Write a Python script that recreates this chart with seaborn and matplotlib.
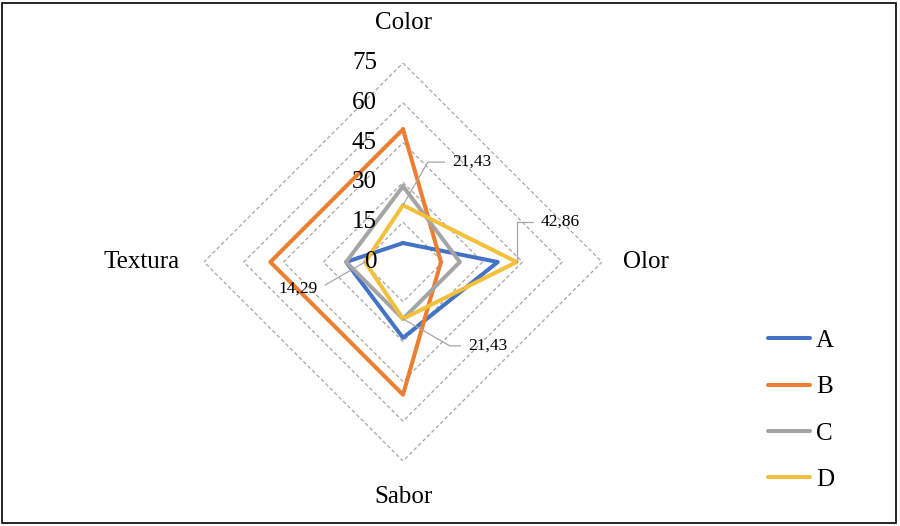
import numpy as np
import pandas as pd
import matplotlib
matplotlib.use('Agg')
import matplotlib.pyplot as plt
import seaborn as sns
from matplotlib.lines import Line2D
from matplotlib.patches import Rectangle
from matplotlib import transforms

# datos del grafico
categorias = ['Color', 'Olor', 'Sabor', 'Textura']
series = ['A', 'B', 'C', 'D']
valores_a = [7.14, 35.71, 28.57, 21.43]
valores_b = [50.0, 14.29, 50.0, 50.0]
valores_c = [28.57, 21.43, 21.43, 21.43]
valores_d = [21.43, 42.86, 21.43, 14.29]
ticks_r = [0, 15, 30, 45, 60, 75]
colores = {'A': '#4472C4', 'B': '#ED7D31', 'C': '#A5A5A5', 'D': '#F2C03A'}

valores = {'A': valores_a, 'B': valores_b, 'C': valores_c, 'D': valores_d}
angulos = np.linspace(0, 2 * np.pi, len(categorias), endpoint=False)
angulos_c = np.append(angulos, 2 * np.pi)

filas = []
for s in series:
    vals = valores[s] + [valores[s][0]]
    for t, v in zip(angulos_c, vals):
        filas.append({'theta': t, 'valor': v, 'serie': s})
df = pd.DataFrame(filas)

sns.set_theme(style='white')
plt.rcParams['font.family'] = ['Liberation Serif', 'DejaVu Serif']
plt.rcParams['text.color'] = 'black'

fig = plt.figure(figsize=(9, 5.26), dpi=100)
ax = fig.add_axes([204 / 900, 65 / 526, 398 / 900, 398 / 526], projection='polar')
ax.set_theta_zero_location('N')
ax.set_theta_direction(-1)

# anillos en forma de rombo
for v in ticks_r[1:]:
    ax.plot(angulos_c, [v] * len(angulos_c), color='#a6a6a6', lw=0.9,
            ls=(0, (3, 2)), zorder=1)

sns.lineplot(data=df, x='theta', y='valor', hue='serie', sort=False,
             estimator=None, palette=colores, linewidth=2.9, legend=False,
             ax=ax, zorder=3)

ax.set_ylim(0, 75)
ax.set_xticks([])
ax.set_yticks([])
ax.grid(False)
ax.spines['polar'].set_visible(False)
ax.set_xlabel('')
ax.set_ylabel('')

# etiquetas del eje radial
off = transforms.offset_copy(ax.transData, fig=fig, x=-26, y=0, units='dots')
for v in ticks_r:
    ax.text(0, v, str(v), transform=off, ha='right', va='center',
            fontsize=18, color='black', clip_on=False, zorder=5)

# nombres de categorias
kw = dict(fontsize=18, color='black', clip_on=False)
ax.text(angulos[0], 90, categorias[0], ha='center', va='center', **kw)
ax.text(angulos[1], 83, categorias[1], ha='left', va='center', **kw)
ax.text(angulos[2], 88.6, categorias[2], ha='center', va='center', **kw)
ax.text(angulos[3], 84, categorias[3], ha='right', va='center', **kw)

# etiquetas de datos de la serie D
guia = dict(arrowstyle='-', color='#a6a6a6', lw=0.9, shrinkA=3, shrinkB=0)
etiquetas = [
    (0, (49, 43), 'left', 'angle,angleA=0,angleB=60,rad=0'),
    (1, (24, 40), 'left', 'angle,angleA=0,angleB=90,rad=0'),
    (2, (65, -27), 'left', 'angle,angleA=0,angleB=-30,rad=0'),
    (3, (-47, -27), 'right', 'angle,angleA=0,angleB=-150,rad=0'),
]
for i, desp, ha, con in etiquetas:
    v = valores_d[i]
    ax.annotate(f'{v:.2f}'.replace('.', ','), xy=(angulos[i], v),
                xytext=desp, textcoords='offset pixels', ha=ha, va='center',
                fontsize=12.5, color='black', arrowprops=dict(guia, connectionstyle=con),
                annotation_clip=False, zorder=4)

# leyenda
handles = [Line2D([0], [0], color=colores[s], lw=2.9) for s in series]
leg = fig.legend(handles, series, loc='upper left', bbox_to_anchor=(745 / 900, 1 - 307 / 526),
                 frameon=False, fontsize=18, labelspacing=0.95, handlelength=1.7,
                 handletextpad=0.25)
for t in leg.get_texts():
    t.set_color('black')

# marco
fig.patches.append(Rectangle((0.002, 0.006), 0.994, 0.988, transform=fig.transFigure,
                             fill=False, edgecolor='black', lw=1.2))

fig.savefig('out.png', dpi=100)
